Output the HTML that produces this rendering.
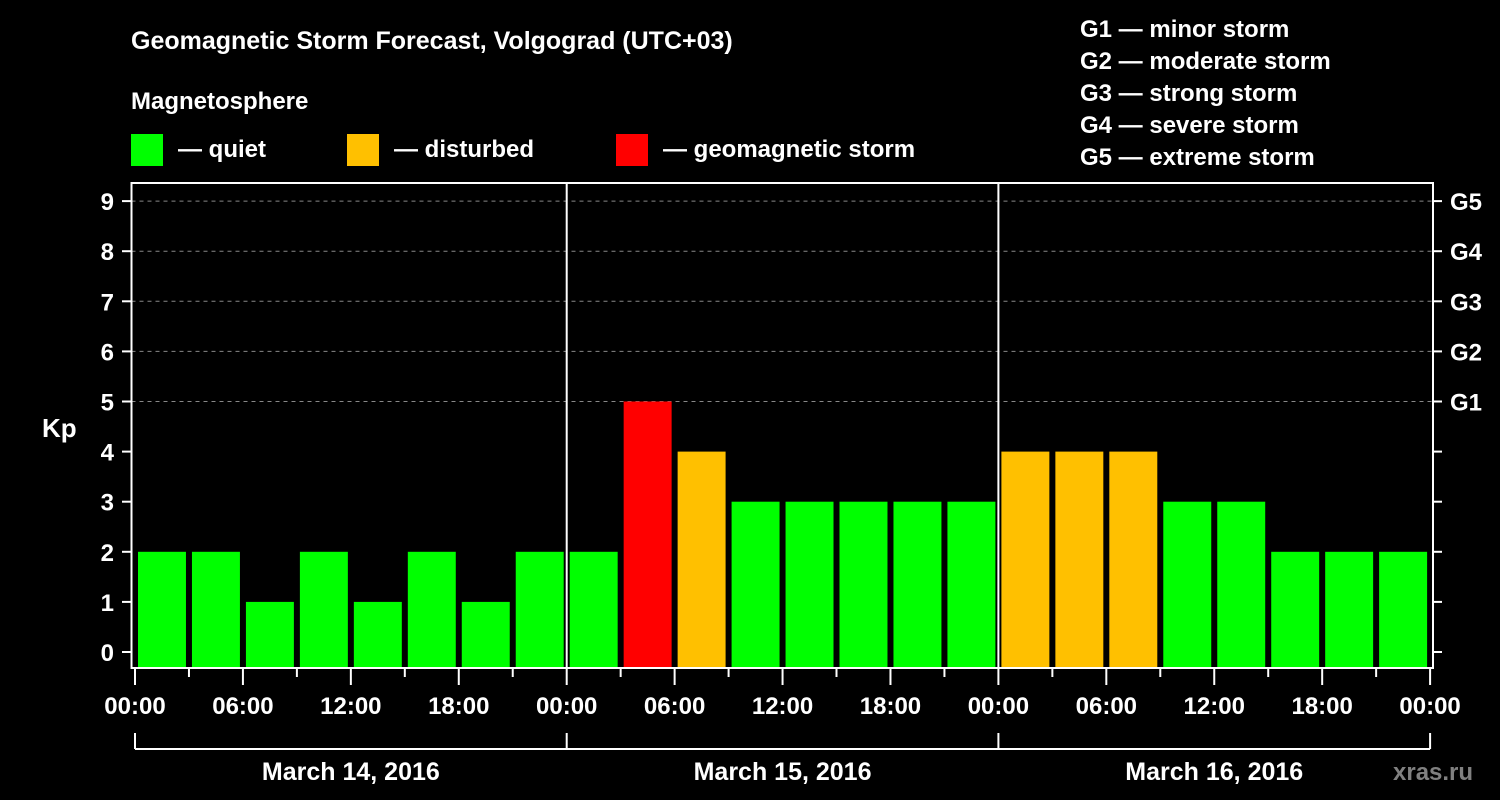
<!DOCTYPE html>
<html><head><meta charset="utf-8"><style>
html,body{margin:0;padding:0;background:#000;}
svg{display:block;font-family:"Liberation Sans",Arial,sans-serif;font-weight:bold;}
</style></head><body>
<svg id="chart" width="1500" height="800" viewBox="0 0 1500 800">
<rect x="0" y="0" width="1500" height="800" fill="#000"/>
<text x="131" y="49" fill="#fff" font-size="25">Geomagnetic Storm Forecast, Volgograd (UTC+03)</text>
<text x="131" y="109" fill="#fff" font-size="24">Magnetosphere</text>
<g><rect x="131" y="134" width="32" height="32" fill="#00ff00"/><text x="178" y="157" fill="#fff" font-size="24">— quiet</text></g>
<g><rect x="347" y="134" width="32" height="32" fill="#ffc000"/><text x="394" y="157" fill="#fff" font-size="24">— disturbed</text></g>
<g><rect x="616" y="134" width="32" height="32" fill="#ff0000"/><text x="663" y="157" fill="#fff" font-size="24">— geomagnetic storm</text></g>
<g fill="#fff" font-size="24">
<text x="1080" y="37">G1 — minor storm</text>
<text x="1080" y="69">G2 — moderate storm</text>
<text x="1080" y="101">G3 — strong storm</text>
<text x="1080" y="133">G4 — severe storm</text>
<text x="1080" y="165">G5 — extreme storm</text>
</g>
<text x="42" y="437" fill="#fff" font-size="26">Kp</text>
<text x="1393" y="780" fill="#808080" font-size="24">xras.ru</text>
<g id="grid"></g><g id="bars"></g><g id="axes"></g>
</svg>
<script>
const days = ["March 14, 2016","March 15, 2016","March 16, 2016"];
const kpValues = [2,2,1,2,1,2,1,2, 2,5,4,3,3,3,3,3, 4,4,4,3,3,2,2,2];
const yTicks = [0,1,2,3,4,5,6,7,8,9];
const gLabels = ["G1","G2","G3","G4","G5"];
const hourLabels = ["00:00","06:00","12:00","18:00"];

const NS="http://www.w3.org/2000/svg";
const X0=135, DAYW=431.7, PL=131.5, PR=1433, PT=183, PB=668;
const y=v=>652-50.1*v;
const x=h=>X0+h*DAYW/24;
function mk(tag,attrs,parent){const e=document.createElementNS(NS,tag);for(const k in attrs)e.setAttribute(k,attrs[k]);document.getElementById(parent).appendChild(e);return e;}
function col(v){return v>=5?"#ff0000":(v>=4?"#ffc000":"#00ff00");}

// dashed grid for G levels
gLabels.forEach((g,i)=>{
  const v=5+i;
  const l=mk("line",{x1:PL,x2:PR,y1:y(v),y2:y(v),stroke:"#888","stroke-dasharray":"4,4","stroke-width":1},"grid");
  
  
  const t=mk("text",{x:1450,y:y(v)+9,fill:"#fff","font-size":24},"axes");
  t.textContent=g;
  
  
});
// bars
kpValues.forEach((v,i)=>{
  const x1=x(i*3)+3, x2=x((i+1)*3)-3;
  const r=mk("rect",{x:x1,y:y(v),width:x2-x1,height:PB-y(v),fill:col(v)},"bars");
  
  
});
// frame
const fr=mk("rect",{x:PL,y:PT,width:PR-PL,height:PB-PT,fill:"none",stroke:"#fff","stroke-width":2},"axes");


// day separators
for(let d=1;d<days.length;d++){
  const l=mk("line",{x1:x(d*24),x2:x(d*24),y1:PT,y2:PB,stroke:"#fff","stroke-width":2},"axes");
  
  
}
// y ticks
yTicks.forEach(v=>{
  mk("line",{x1:122,x2:PL,y1:y(v),y2:y(v),stroke:"#fff","stroke-width":2},"axes");
  mk("line",{x1:PR,x2:1442,y1:y(v),y2:y(v),stroke:"#fff","stroke-width":2},"axes");
  const t=mk("text",{x:114,y:y(v)+9,fill:"#fff","font-size":24,"text-anchor":"end"},"axes");
  t.textContent=v;
  
  
});
// x ticks
for(let h=0;h<=days.length*24;h+=3){
  const major=h%6===0;
  mk("line",{x1:x(h),x2:x(h),y1:PB,y2:major?685:677,stroke:"#fff","stroke-width":2},"axes");
  if(major){
    const t=mk("text",{x:x(h),y:714,fill:"#fff","font-size":24,"text-anchor":"middle"},"axes");
    t.textContent=hourLabels[(h/6)%4];
    
    
  }
}
// date brackets
mk("line",{x1:x(0),x2:x(days.length*24),y1:749,y2:749,stroke:"#fff","stroke-width":2},"axes");
for(let d=0;d<=days.length;d++){
  mk("line",{x1:x(d*24),x2:x(d*24),y1:733,y2:749,stroke:"#fff","stroke-width":2},"axes");
}
days.forEach((s,d)=>{
  const t=mk("text",{x:x(d*24+12),y:780,fill:"#fff","font-size":25,"text-anchor":"middle"},"axes");
  t.textContent=s;
  
  
});
</script>
</body></html>
